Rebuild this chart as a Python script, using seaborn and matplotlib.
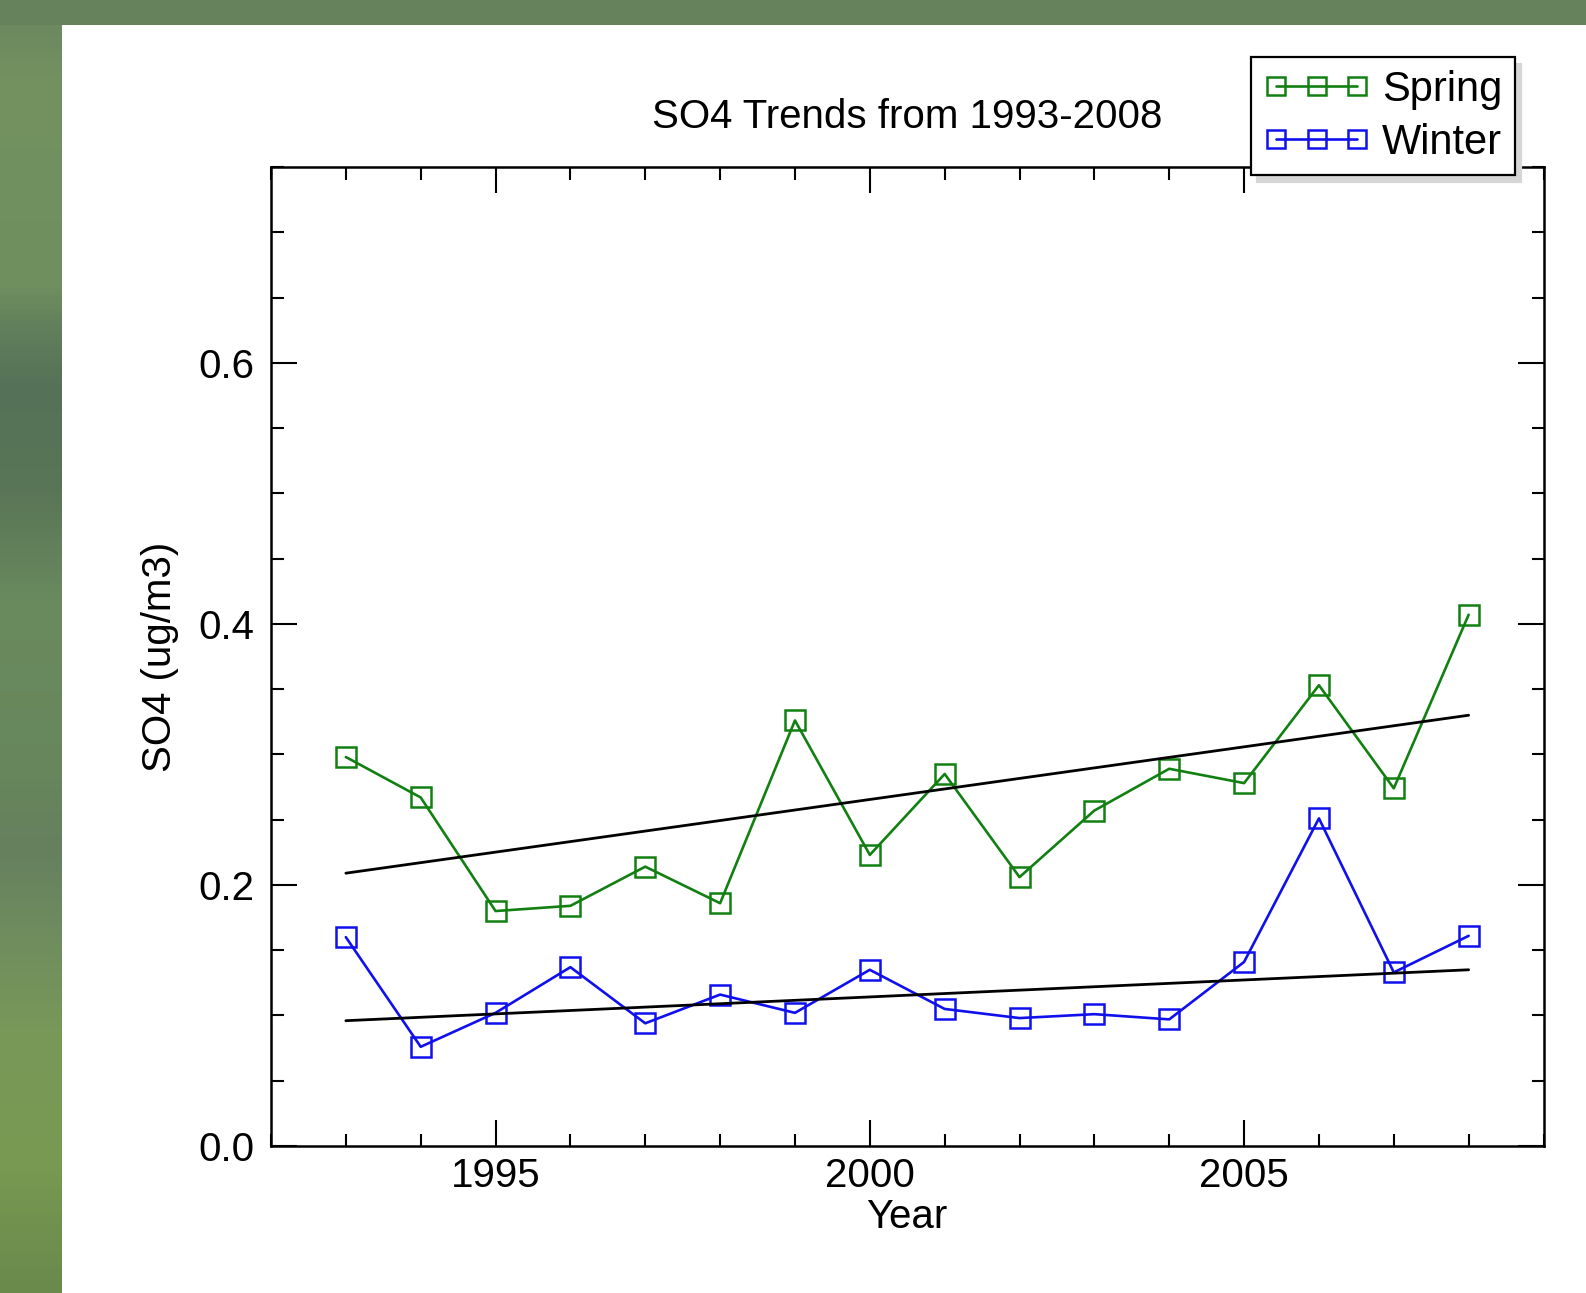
import numpy as np
import pandas as pd
import matplotlib
matplotlib.use("Agg")
import matplotlib.pyplot as plt
from matplotlib.colors import LinearSegmentedColormap
from matplotlib.ticker import MultipleLocator
import seaborn as sns

# ---- data ----
years = [1993, 1994, 1995, 1996, 1997, 1998, 1999, 2000,
         2001, 2002, 2003, 2004, 2005, 2006, 2007, 2008]
spring = [0.298, 0.267, 0.180, 0.184, 0.214, 0.186, 0.326, 0.223,
          0.285, 0.206, 0.257, 0.289, 0.278, 0.353, 0.274, 0.407]
winter = [0.160, 0.076, 0.102, 0.137, 0.094, 0.116, 0.102, 0.135,
          0.105, 0.098, 0.101, 0.097, 0.141, 0.251, 0.133, 0.161]
trend_years = [1993, 2008]
spring_trend = [0.209, 0.330]
winter_trend = [0.096, 0.135]
title = "SO4 Trends from 1993-2008"
xlabel = "Year"
ylabel = "SO4 (ug/m3)"

sns.set_theme(style="ticks")
plt.rcParams['font.family'] = ['Liberation Sans', 'DejaVu Sans']
plt.rcParams['text.color'] = 'black'
plt.rcParams['axes.labelcolor'] = 'black'
plt.rcParams['xtick.color'] = 'black'
plt.rcParams['ytick.color'] = 'black'

W, H = 1586, 1293
fig = plt.figure(figsize=(W / 100, H / 100), dpi=100)
fig.patch.set_facecolor("white")

# green gradient background (left strip and top strip)
bg = fig.add_axes([0, 0, 1, 1], zorder=-10)
stops = [(0.0, "#6a855f"), (0.06, "#73925f"), (0.22, "#6f8f5f"),
         (0.25, "#62805b"), (0.30, "#557158"), (0.38, "#5a7657"),
         (0.47, "#6a8b5e"), (0.60, "#67865c"), (0.66, "#66805e"),
         (0.72, "#6e8c5e"), (0.80, "#789859"), (0.90, "#789a52"),
         (1.0, "#6a8a4c")]
cmap = LinearSegmentedColormap.from_list("bgg", stops)
grad = np.linspace(0, 1, 400).reshape(-1, 1)
bg.imshow(grad, aspect="auto", cmap=cmap, extent=[0, 1, 0, 1], origin="upper")
bg.set_xlim(0, 1); bg.set_ylim(0, 1)
bg.axis("off")
bg.add_patch(plt.Rectangle((0, 1 - 25 / H), 1, 25 / H, color="#66825c", lw=0))
bg.add_patch(plt.Rectangle((62 / W, 0), 1 - 62 / W, 1 - 25 / H, color="white", lw=0))

ax = fig.add_axes([271 / W, 1 - 1146 / H, (1543.5 - 271) / W, (1146 - 167) / H])
ax.set_facecolor("white")

mk = dict(marker="s", markersize=14, markerfacecolor="none", markeredgewidth=1.8, linewidth=1.9)
sns.lineplot(x=years, y=spring, ax=ax, color="#118011", markeredgecolor="#118011",
             label="Spring", **mk)
sns.lineplot(x=years, y=winter, ax=ax, color="#1010ee", markeredgecolor="#1010ee",
             label="Winter", **mk)
sns.lineplot(x=trend_years, y=spring_trend, ax=ax, color="black", linewidth=2.0)
sns.lineplot(x=trend_years, y=winter_trend, ax=ax, color="black", linewidth=2.0)

ax.set_xlim(1992, 2009)
ax.set_ylim(0, 0.75)
ax.xaxis.set_major_locator(MultipleLocator(5))
ax.xaxis.set_minor_locator(MultipleLocator(1))
ax.yaxis.set_major_locator(MultipleLocator(0.2))
ax.yaxis.set_minor_locator(MultipleLocator(0.05))
ax.yaxis.set_major_formatter(matplotlib.ticker.FormatStrFormatter("%.1f"))
ax.tick_params(which="both", direction="in", top=True, right=True, width=1.5, colors="black")
ax.tick_params(which="major", length=19, labelsize=29)
ax.tick_params(axis="y", which="major", pad=12)
ax.tick_params(axis="x", which="major", pad=8)
ax.tick_params(which="minor", length=9)
for s in ax.spines.values():
    s.set_linewidth(1.8)
    s.set_color("black")

ax.set_title(title, fontsize=29, pad=28, color="black")
ax.set_xlabel(xlabel, fontsize=29, labelpad=2)
ax.set_ylabel(ylabel, fontsize=29, labelpad=14)

leg = ax.legend(loc="upper right", bbox_to_anchor=(1515 / W, 1 - 57 / H),
                bbox_transform=fig.transFigure, numpoints=3, markerscale=0.9,
                fontsize=30, handlelength=2.55, handletextpad=0.3, borderpad=0.3,
                labelspacing=0.32, borderaxespad=0, fancybox=False, framealpha=1,
                shadow={"ox": 4, "oy": -5, "facecolor": "#d6d6d6", "edgecolor": "#d6d6d6", "alpha": 1})
leg.get_frame().set_edgecolor("black")
leg.get_frame().set_linewidth(1.6)
for t in leg.get_texts():
    t.set_color("black")
leg.set_zorder(10)

fig.savefig("out.png", dpi=100)
